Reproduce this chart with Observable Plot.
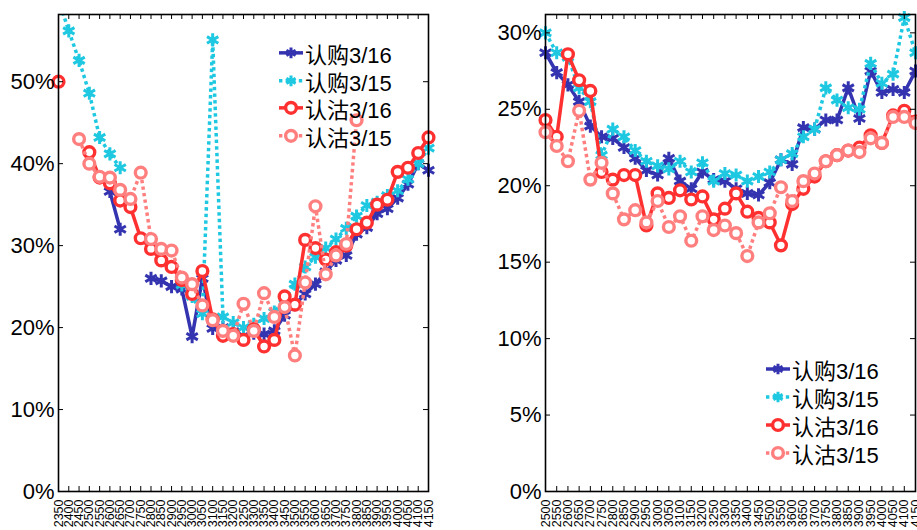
<!DOCTYPE html>
<html><head><meta charset="utf-8">
<script src="https://cdn.jsdelivr.net/npm/d3@7"></script>
<script src="https://cdn.jsdelivr.net/npm/@observablehq/plot@0.6"></script>
<style>
html,body{margin:0;padding:0;background:#fff}
body{width:917px;height:530px;overflow:hidden;position:relative;font-family:"Liberation Sans","Noto Sans CJK SC",Arial,sans-serif}
.panel{position:absolute;top:0}
.legend{position:absolute;font-family:"Liberation Sans","Noto Sans CJK SC",sans-serif;font-size:22px;color:#000}
.legend .row{display:flex;align-items:center;height:28px;white-space:nowrap}
</style></head><body>
<div id="left" class="panel" style="left:0"></div>
<div id="right" class="panel" style="left:460px"></div>
<script>
// ---------- data ----------
const seriesNames = ["认购3/16", "认购3/15", "认沽3/16", "认沽3/15"];

const strikesLeft = [2350,2400,2450,2500,2550,2600,2650,2700,2750,2800,2850,2900,2950,3000,3050,3100,3150,3200,3250,3300,3350,3400,3450,3500,3550,3600,3650,3700,3750,3800,3850,3900,3950,4000,4050,4100,4150];
const leftCall16 = [null,null,null,null,null,36.6,32.0,null,null,26.0,25.7,25.0,24.7,18.9,26.0,19.9,20.0,19.5,19.0,19.3,19.2,19.6,21.5,22.8,24.1,25.3,26.8,28.2,28.8,31.4,32.2,33.9,34.5,35.8,37.5,40.0,39.2];
const leftCall15 = [60.0,56.2,52.6,48.6,43.2,41.2,39.5,null,null,null,null,null,25.2,23.8,21.7,55.1,21.3,20.6,20.0,20.4,21.1,21.9,23.5,25.3,27.4,28.6,29.7,30.8,32.1,33.6,34.9,35.3,36.1,36.7,38.1,40.0,41.9];
const leftPut16 = [50.0,null,null,41.4,38.3,37.6,35.5,34.7,30.9,29.6,28.2,27.4,25.8,24.1,26.9,21.0,19.0,19.2,18.5,19.8,17.7,18.5,23.8,22.8,30.7,29.7,28.3,29.2,30.0,32.0,32.8,35.0,35.6,39.0,39.5,41.3,43.2];
const leftPut15 = [null,null,43.0,40.0,38.4,38.3,36.8,35.7,38.9,30.8,29.6,29.4,26.1,25.3,22.7,20.9,19.6,19.0,22.9,19.6,24.2,21.3,22.5,16.6,25.5,34.8,26.5,28.8,30.2,45.3,null,null,null,null,null,null,null];
const leftYTicks = [0,10,20,30,40,50];

const strikesRight = [2500,2550,2600,2650,2700,2750,2800,2850,2900,2950,3000,3050,3100,3150,3200,3250,3300,3350,3400,3450,3500,3550,3600,3650,3700,3750,3800,3850,3900,3950,4000,4050,4100,4150];
const rightCall16 = [28.7,27.4,26.6,25.5,23.9,23.2,23.1,22.5,21.8,21.0,20.7,21.8,20.3,19.8,20.9,20.4,20.3,19.8,19.5,19.4,20.2,21.7,21.4,23.8,23.7,24.3,24.3,26.4,24.4,27.5,26.1,26.3,26.1,27.5];
const rightCall15 = [30.0,28.7,28.4,26.4,25.5,22.0,23.7,23.2,22.3,21.6,21.3,21.1,21.6,20.9,21.5,20.3,20.8,20.7,20.3,20.6,20.9,21.7,22.1,23.2,23.7,26.4,25.6,25.1,25.0,28.0,26.7,27.3,31.0,28.7];
const rightPut16 = [24.3,23.2,28.6,26.9,26.2,20.9,20.4,20.7,20.7,17.4,19.5,19.2,19.7,19.1,19.3,17.8,18.5,19.5,18.3,17.9,17.6,16.1,18.8,19.8,20.6,21.6,22.0,22.3,22.5,23.3,22.8,24.6,24.9,24.2];
const rightPut15 = [23.5,22.6,21.6,24.9,20.4,21.5,19.5,17.8,18.4,17.6,19.0,17.3,18.0,16.4,18.0,17.1,17.4,16.9,15.4,17.6,18.2,19.9,19.0,20.3,20.8,21.6,22.0,22.3,22.2,23.1,22.8,24.5,24.5,24.1];
const rightYTicks = [0,5,10,15,20,25,30];

// ---------- styles ----------
const styles = [
  {color:"#3434b0", dash:null, symbol:"asterisk"},
  {color:"#1ec8e1", dash:"3.4,3.2", symbol:"asterisk"},
  {color:"#ff3030", dash:null, symbol:"circle"},
  {color:"#ff7f7f", dash:"3.4,3.2", symbol:"circle"}
];

function makePanel(el, strikes, valuesList, yMax, yTicks, opts) {
  const {width, height, ml, mr, mt, mb} = opts;
  const innerW = width - ml - mr, innerH = height - mt - mb;
  const marks = [];
  valuesList.forEach((vals, k) => {
    const st = styles[k];
    const rows = strikes.map((x, i) => ({x, y: vals[i]}));
    marks.push(Plot.line(rows, {x:"x", y:"y", stroke: st.color, strokeWidth: 3.5,
      strokeDasharray: st.dash, strokeLinecap: "butt", strokeLinejoin: "round", clip: true}));
    const pts = rows.filter(d => d.y != null && d.y <= yMax);
    if (st.symbol === "circle") {
      marks.push(Plot.dot(pts, {x:"x", y:"y", r: 5.4, stroke: st.color, strokeWidth: 3.4, fill: "white"}));
    } else {
      marks.push(Plot.dot(pts, {x:"x", y:"y", r: 6.2, symbol: "asterisk", stroke: st.color, strokeWidth: 3}));
    }
  });
  marks.push(Plot.frame({stroke:"black", strokeWidth: 1.6}));
  marks.push(Plot.tickX(strikes, {x: d => d, insetTop: innerH - 5, stroke: "black", strokeWidth: 1}));
  marks.push(Plot.tickX(strikes, {x: d => d, insetBottom: innerH - 5, stroke: "black", strokeWidth: 1}));
  marks.push(Plot.tickY(yTicks, {y: d => d, insetRight: innerW - 5, stroke: "black", strokeWidth: 1}));
  marks.push(Plot.tickY(yTicks, {y: d => d, insetLeft: innerW - 5, stroke: "black", strokeWidth: 1}));
  marks.push(Plot.axisX({ticks: strikes, tickSize: 0, tickRotate: -90, tickPadding: 8, fontSize: 12.5,
    tickFormat: d => String(d), label: null}));
  marks.push(Plot.axisY({ticks: yTicks, tickSize: 0, tickPadding: 4, fontSize: 22,
    tickFormat: d => d + "%", label: null}));
  const chart = Plot.plot({
    width, height, marginLeft: ml, marginRight: mr, marginTop: mt, marginBottom: mb,
    x: {type: "linear", domain: [strikes[0], strikes[strikes.length - 1]]},
    y: {type: "linear", domain: [0, yMax]},
    style: {fontFamily: "'Liberation Sans', Arial, sans-serif", background: "transparent", overflow: "visible", color: "black"},
    marks
  });
  el.appendChild(chart);
}

function makeLegend(parent, left, top, rowH) {
  const box = document.createElement("div");
  box.className = "legend";
  box.style.left = left + "px";
  box.style.top = top + "px";
  seriesNames.forEach((name, k) => {
    const st = styles[k];
    const row = document.createElement("div");
    row.className = "row";
    row.style.height = rowH + "px";
    const svg = d3.create("svg").attr("width", 26).attr("height", rowH).style("overflow", "visible");
    svg.append("line").attr("x1", 1).attr("x2", 25).attr("y1", rowH/2).attr("y2", rowH/2)
      .attr("stroke", st.color).attr("stroke-width", 3.5).attr("stroke-dasharray", st.dash);
    if (st.symbol === "circle") {
      svg.append("circle").attr("cx", 13).attr("cy", rowH/2).attr("r", 5.4)
        .attr("fill", "white").attr("stroke", st.color).attr("stroke-width", 3.4);
    } else {
      svg.append("path").attr("transform", `translate(13,${rowH/2})`)
        .attr("d", d3.symbol(d3.symbolAsterisk, 80)())
        .attr("stroke", st.color).attr("stroke-width", 3).attr("fill", "none");
    }
    row.appendChild(svg.node());
    const span = document.createElement("span");
    span.textContent = name;
    span.style.marginLeft = "1px";
    row.appendChild(span);
    box.appendChild(row);
  });
  parent.appendChild(box);
}

makePanel(document.getElementById("left"), strikesLeft, [leftCall16, leftCall15, leftPut16, leftPut15], 58.2, leftYTicks,
  {width: 460, height: 530, ml: 58, mr: 32, mt: 14, mb: 39});
makePanel(document.getElementById("right"), strikesRight, [rightCall16, rightCall15, rightPut16, rightPut15], 31.2, rightYTicks,
  {width: 457, height: 530, ml: 85, mr: 2, mt: 14, mb: 39});

makeLegend(document.body, 278, 39, 27.7);
makeLegend(document.body, 765, 355, 28);
</script>
</body></html>
